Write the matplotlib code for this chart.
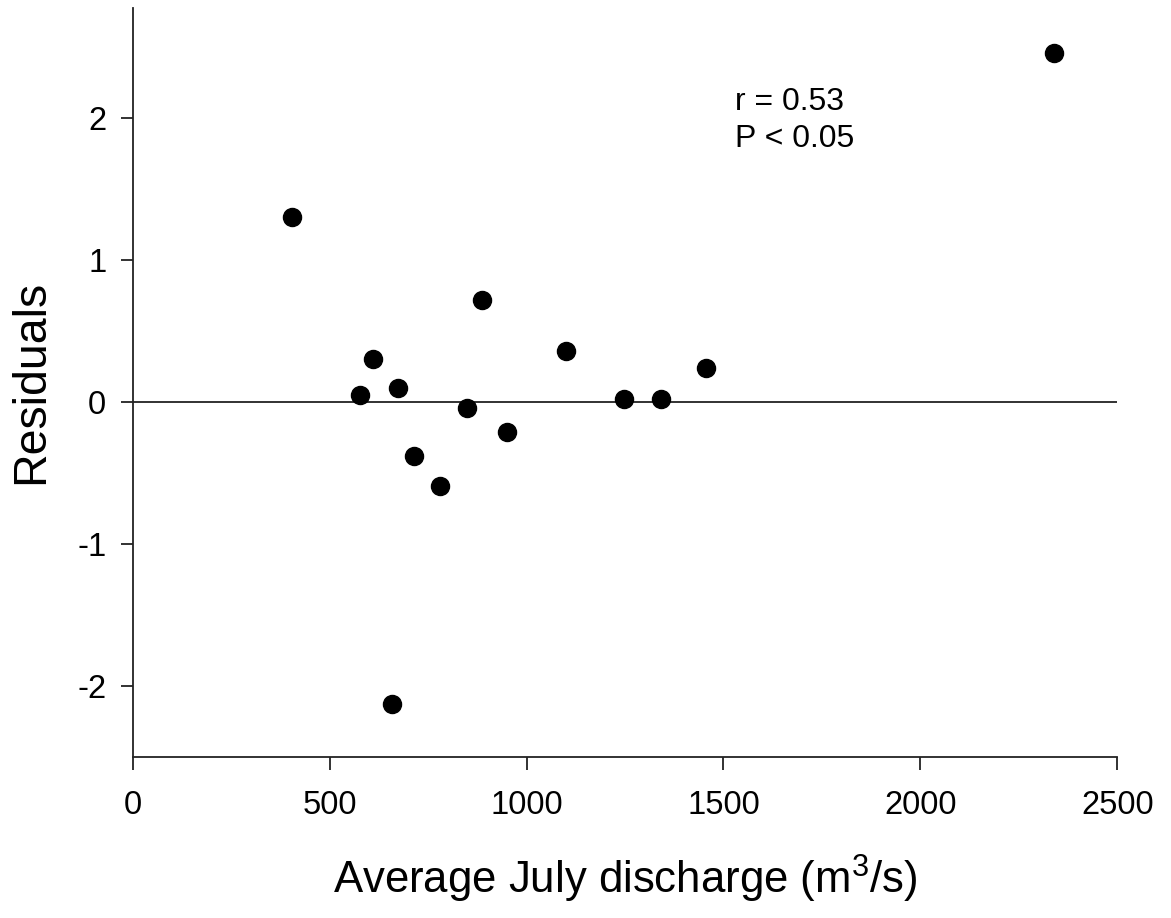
import matplotlib
matplotlib.use("Agg")
import matplotlib.pyplot as plt

# average July discharge (m3/s) and regression residuals
discharge = [405, 578, 609, 674, 658, 715, 780, 848, 886, 951, 1100, 1248, 1342, 1456, 2340]
residuals = [1.30, 0.05, 0.30, 0.095, -2.13, -0.38, -0.59, -0.04, 0.72, -0.21, 0.36, 0.02, 0.02, 0.24, 2.46]

x_ticks = [0, 500, 1000, 1500, 2000, 2500]
y_ticks = [-2, -1, 0, 1, 2]

plt.rcParams["font.family"] = ["Liberation Sans", "DejaVu Sans"]
plt.rcParams["axes.unicode_minus"] = False
plt.rcParams["mathtext.fontset"] = "custom"
plt.rcParams["mathtext.rm"] = "Liberation Sans"

fig = plt.figure(figsize=(11.71, 9.18), dpi=100)
ax = fig.add_axes([132.7 / 1171, 161.3 / 918, (1117.3 - 132.7) / 1171, (756.7 - 8) / 918])

ax.axhline(0, color="#222222", linewidth=1.3, zorder=1)
ax.plot(discharge, residuals, "o", color="black", markersize=13, zorder=3)

ax.set_xlim(0, 2500)
ax.set_ylim(-2.5, 2.776)
ax.set_xticks(x_ticks)
ax.set_yticks(y_ticks)

for side in ["top", "right"]:
    ax.spines[side].set_visible(False)
for side in ["left", "bottom"]:
    ax.spines[side].set_linewidth(1.3)
    ax.spines[side].set_color("#222222")

ax.tick_params(axis="both", direction="out", length=9, width=1.3, color="#222222",
               labelsize=23.5)
ax.tick_params(axis="x", pad=15)
ax.tick_params(axis="y", pad=10)

ax.set_xlabel("Average July discharge (m$\\mathregular{^3}$/s)", fontsize=31.5)
ax.xaxis.set_label_coords(0.5, -0.128)
ax.set_ylabel("Residuals", fontsize=33.5, labelpad=17)

ax.text(1530, 1.796, "r = 0.53\nP < 0.05", fontsize=23, ha="left", va="baseline",
        linespacing=1.3)

fig.savefig("out.png", dpi=100)
